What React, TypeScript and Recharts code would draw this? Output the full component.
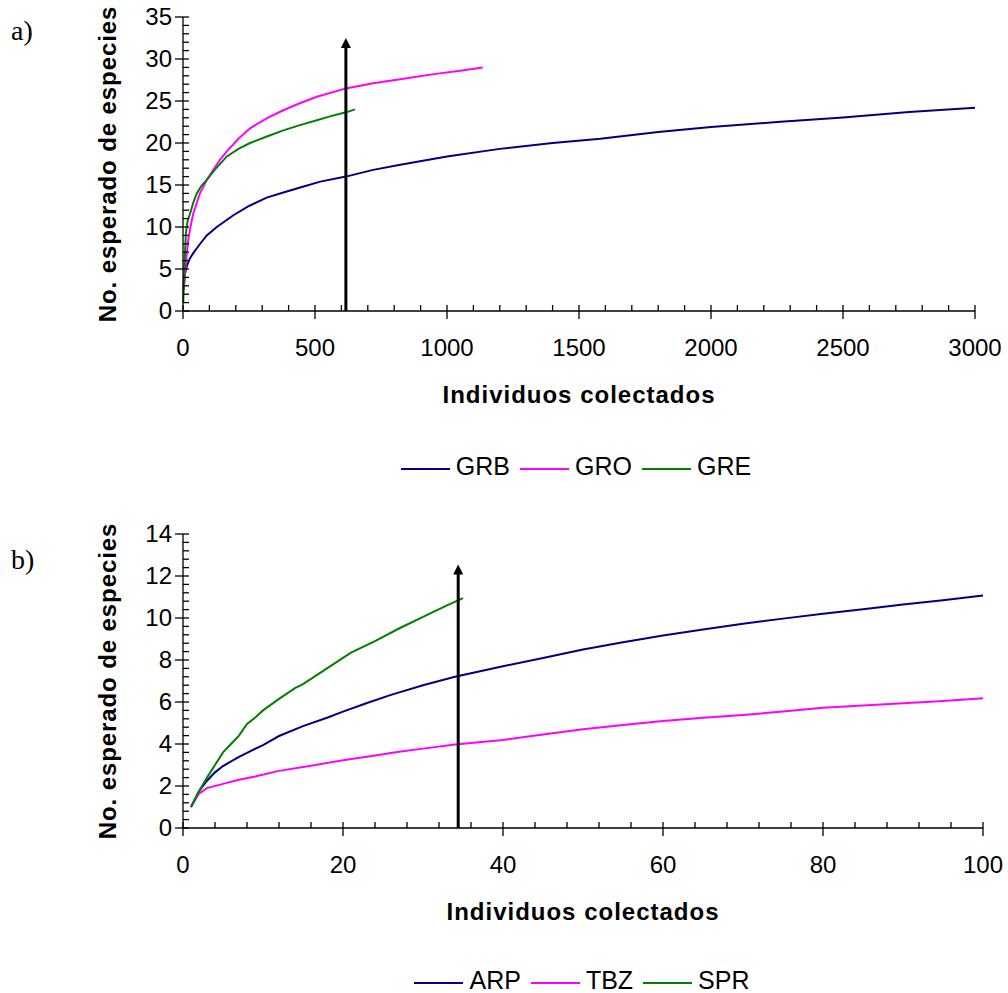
import { LineChart, Line, XAxis, YAxis, Legend, ReferenceLine } from 'recharts';

const FONT = '"Liberation Sans", Arial, sans-serif';

// ---- panel a) ----
const seriesA = ['GRB', 'GRO', 'GRE'];
const xMajorA = [0, 500, 1000, 1500, 2000, 2500, 3000];
const yMajorA = [0, 5, 10, 15, 20, 25, 30, 35];
const grb: [number, number][] = [
  [2, 2.5], [8, 4.5], [14, 5.3], [25, 6.2], [39, 6.9], [60, 7.8], [90, 9.0], [128, 10.0],
  [191, 11.4], [250, 12.5], [317, 13.5], [380, 14.1], [444, 14.7], [520, 15.4], [617, 16.0],
  [720, 16.8], [823, 17.4], [1000, 18.4], [1200, 19.3], [1400, 20.0], [1581, 20.5], [1800, 21.3],
  [2000, 21.9], [2250, 22.5], [2500, 23.05], [2750, 23.7], [3000, 24.2],
];
const gro: [number, number][] = [
  [3, 2.7], [10, 5.5], [20, 8.5], [30, 10.3], [39, 11.6], [64, 14.0], [90, 15.6], [115, 16.8],
  [140, 18.0], [166, 19.0], [210, 20.5], [254, 21.75], [320, 23.0], [380, 23.9], [440, 24.7],
  [507, 25.5], [617, 26.5], [720, 27.1], [823, 27.6], [950, 28.2], [1050, 28.6], [1135, 29.0],
];
const gre: [number, number][] = [
  [1, 1], [4, 4], [8, 7.3], [11, 9.25], [18, 10.8], [27, 11.6], [40, 13.0], [52, 14.0], [70, 14.9],
  [90, 15.6], [120, 16.8], [166, 18.4], [210, 19.3], [254, 20.0], [320, 20.8], [380, 21.5],
  [440, 22.1], [507, 22.7], [560, 23.2], [617, 23.65], [652, 24.0],
];
const arrowA = { x: 617, y: 32.5 };

// ---- panel b) ----
const seriesB = ['ARP', 'TBZ', 'SPR'];
const xMajorB = [0, 20, 40, 60, 80, 100];
const yMajorB = [0, 2, 4, 6, 8, 10, 12, 14];
const arp: [number, number][] = [
  [1, 1], [2, 1.75], [3, 2.25], [4, 2.65], [5, 2.95], [7, 3.39], [10, 3.95], [12, 4.38], [15, 4.85],
  [18, 5.25], [20, 5.54], [23, 5.95], [26, 6.34], [30, 6.8], [34, 7.2], [40, 7.7], [45, 8.1],
  [50, 8.5], [55, 8.85], [60, 9.17], [65, 9.45], [70, 9.73], [75, 9.97], [80, 10.2], [85, 10.42],
  [90, 10.64], [95, 10.85], [100, 11.07],
];
const tbz: [number, number][] = [
  [1, 1], [2, 1.64], [3, 1.9], [5, 2.1], [7, 2.3], [9, 2.45], [12, 2.72], [16, 2.96], [20, 3.23],
  [24, 3.45], [27, 3.63], [30, 3.78], [34, 3.98], [40, 4.19], [45, 4.45], [50, 4.7], [55, 4.9],
  [60, 5.1], [65, 5.25], [70, 5.38], [75, 5.55], [80, 5.73], [85, 5.83], [90, 5.94], [95, 6.05],
  [100, 6.18],
];
const spr: [number, number][] = [
  [1, 1], [2, 1.75], [3, 2.4], [4, 3.0], [5, 3.6], [6, 4.0], [7, 4.4], [8, 4.95], [9, 5.25],
  [10, 5.6], [12, 6.15], [14, 6.66], [15, 6.85], [17, 7.35], [18, 7.6], [19, 7.85], [20, 8.1],
  [21, 8.35], [24, 8.9], [27, 9.5], [30, 10.05], [33, 10.6], [35, 10.95],
];
const arrowB = { x: 34.4, y: 12.55 };

const toPts = (arr: [number, number][]) => arr.map(([x, y]) => ({ x, y }));
const steps = (max: number, step: number) => {
  const out: number[] = [];
  for (let i = 0; i * step <= max + 1e-9; i++) out.push(+(i * step).toFixed(4));
  return out;
};
const isMajor = (majors: number[], v: number) => majors.some((m) => Math.abs(m - v) < 1e-6);

function XTick(props: any) {
  const { x, y, payload, majors } = props;
  const major = isMajor(majors, payload.value);
  return (
    <g>
      <line x1={x} x2={x} y1={y - 6} y2={major ? y + 8 : y} stroke="#000" strokeWidth={1.3} />
      {major && (
        <text x={x} y={y + 45} textAnchor="middle" fontSize={24} fontFamily={FONT} fill="#000">
          {payload.value}
        </text>
      )}
    </g>
  );
}

function YTick(props: any) {
  const { x, y, payload, majors } = props;
  const major = isMajor(majors, payload.value);
  return (
    <g>
      <line x1={major ? x - 8 : x} x2={x + 6} y1={y} y2={y} stroke="#000" strokeWidth={1.3} />
      {major && (
        <text x={x - 11} y={y + 8} textAnchor="end" fontSize={24} fontFamily={FONT} fill="#000">
          {payload.value}
        </text>
      )}
    </g>
  );
}

function XTitle(props: any) {
  const vb = props.viewBox;
  return (
    <text x={vb.x + vb.width / 2} y={vb.y + 91.6} textAnchor="middle" fontSize={24}
      fontWeight="bold" letterSpacing={1} fontFamily={FONT} fill="#000">
      Individuos colectados
    </text>
  );
}

function YTitle(props: any) {
  const vb = props.viewBox;
  const bx = vb.x + vb.width - 67.5;
  const cy = vb.y + vb.height / 2;
  return (
    <text transform={`translate(${bx}, ${cy}) rotate(-90)`} x={0} y={0} textAnchor="middle"
      fontSize={24} fontWeight="bold" letterSpacing={0.9} fontFamily={FONT} fill="#000">
      No. esperado de especies
    </text>
  );
}

function Arrow(props: any) {
  const { x1, y1, y2 } = props;
  const top = Math.min(y1, y2);
  const bot = Math.max(y1, y2);
  return (
    <g>
      <line x1={x1} x2={x1} y1={bot} y2={top + 8} stroke="#000" strokeWidth={3} />
      <polygon points={`${x1},${top} ${x1 - 5},${top + 10} ${x1 + 5},${top + 10}`} fill="#000" />
    </g>
  );
}

function LegendRow(props: any) {
  const { payload, order } = props;
  const items = [...(payload || [])].sort(
    (a: any, b: any) => order.indexOf(a.value) - order.indexOf(b.value)
  );
  return (
    <div style={{ display: 'flex', alignItems: 'center', justifyContent: 'center', height: 30,
      fontFamily: FONT, fontSize: 25, color: '#000' }}>
      {items.map((e: any) => (
        <div key={e.value} style={{ display: 'flex', alignItems: 'center', margin: '0 5px' }}>
          <svg width={49} height={9}>
            <line x1={0} x2={49} y1={7} y2={7} stroke={e.color} strokeWidth={2} />
          </svg>
          <span style={{ marginLeft: 6 }}>{e.value}</span>
        </div>
      ))}
    </div>
  );
}

const panelLabel: React.CSSProperties = {
  position: 'absolute', left: 11, fontFamily: '"Liberation Serif", "Times New Roman", serif',
  fontSize: 28, lineHeight: '28px', color: '#000',
};

export default function App() {
  return (
    <div style={{ position: 'absolute', left: 0, top: 0, width: 1008, height: 993, background: '#fff' }}>
      <div style={{ ...panelLabel, top: 17 }}>a)</div>
      <div style={{ ...panelLabel, top: 546 }}>b)</div>

      <div style={{ position: 'absolute', left: 0, top: 0 }}>
        <LineChart width={1008} height={500} margin={{ top: 17, right: 33, bottom: 149, left: 123 }}>
          <XAxis type="number" dataKey="x" domain={[0, 3000]} ticks={steps(3000, 100)} interval={0}
            height={40} tickSize={0} tickMargin={0} tickLine={false}
            axisLine={{ stroke: '#000', strokeWidth: 1.3 }}
            tick={(p: any) => <XTick {...p} majors={xMajorA} />}
            label={(p: any) => <XTitle {...p} />} />
          <YAxis type="number" domain={[0, 35]} ticks={steps(35, 1)} interval={0} width={60}
            tickSize={0} tickMargin={0} tickLine={false}
            axisLine={{ stroke: '#000', strokeWidth: 1.3 }}
            tick={(p: any) => <YTick {...p} majors={yMajorA} />}
            label={(p: any) => <YTitle {...p} />} />
          <Line data={toPts(grb)} dataKey="y" name="GRB" stroke="#000080" strokeWidth={2}
            dot={false} type="linear" isAnimationActive={false} />
          <Line data={toPts(gro)} dataKey="y" name="GRO" stroke="#FF00FF" strokeWidth={2}
            dot={false} type="linear" isAnimationActive={false} />
          <Line data={toPts(gre)} dataKey="y" name="GRE" stroke="#008000" strokeWidth={2}
            dot={false} type="linear" isAnimationActive={false} />
          <ReferenceLine segment={[{ x: arrowA.x, y: 0 }, { x: arrowA.x, y: arrowA.y }]}
            ifOverflow="visible" shape={(p: any) => <Arrow {...p} />} />
          <Legend layout="horizontal" verticalAlign="middle" align="center"
            wrapperStyle={{ position: 'absolute', left: 72, top: 451, width: 1008, height: 30 }}
            content={(p: any) => <LegendRow {...p} order={seriesA} />} />
        </LineChart>
      </div>

      <div style={{ position: 'absolute', left: 0, top: 500 }}>
        <LineChart width={1008} height={493} margin={{ top: 34, right: 25, bottom: 125, left: 123 }}>
          <XAxis type="number" dataKey="x" domain={[0, 100]} ticks={steps(100, 4)} interval={0}
            height={40} tickSize={0} tickMargin={0} tickLine={false}
            axisLine={{ stroke: '#000', strokeWidth: 1.3 }}
            tick={(p: any) => <XTick {...p} majors={xMajorB} />}
            label={(p: any) => <XTitle {...p} />} />
          <YAxis type="number" domain={[0, 14]} ticks={steps(14, 0.4)} interval={0} width={60}
            tickSize={0} tickMargin={0} tickLine={false}
            axisLine={{ stroke: '#000', strokeWidth: 1.3 }}
            tick={(p: any) => <YTick {...p} majors={yMajorB} />}
            label={(p: any) => <YTitle {...p} />} />
          <Line data={toPts(arp)} dataKey="y" name="ARP" stroke="#000080" strokeWidth={2}
            dot={false} type="linear" isAnimationActive={false} />
          <Line data={toPts(tbz)} dataKey="y" name="TBZ" stroke="#FF00FF" strokeWidth={2}
            dot={false} type="linear" isAnimationActive={false} />
          <Line data={toPts(spr)} dataKey="y" name="SPR" stroke="#008000" strokeWidth={2}
            dot={false} type="linear" isAnimationActive={false} />
          <ReferenceLine segment={[{ x: arrowB.x, y: 0 }, { x: arrowB.x, y: arrowB.y }]}
            ifOverflow="visible" shape={(p: any) => <Arrow {...p} />} />
          <Legend layout="horizontal" verticalAlign="middle" align="center"
            wrapperStyle={{ position: 'absolute', left: 78, top: 465, width: 1008, height: 30 }}
            content={(p: any) => <LegendRow {...p} order={seriesB} />} />
        </LineChart>
      </div>
    </div>
  );
}
